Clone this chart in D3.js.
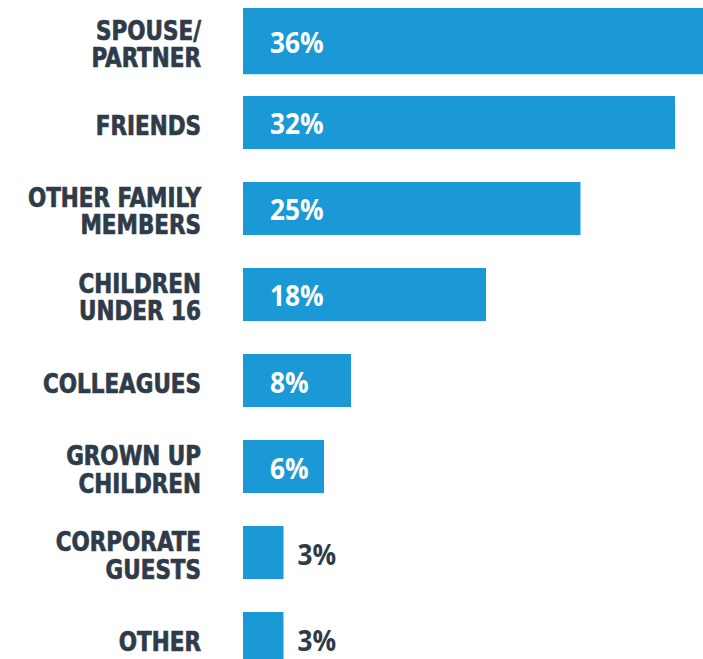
<!DOCTYPE html>
<html>
<head>
<meta charset="utf-8">
<script src="https://cdn.jsdelivr.net/npm/d3@7"></script>
<style>
  html, body { margin: 0; padding: 0; background: #ffffff; }
  svg { display: block; overflow: hidden; }
  .cat { font-family: "DejaVu Sans Condensed", "DejaVu Sans", sans-serif; font-weight: 700; fill: #2f3b48; stroke: #2f3b48; stroke-width: 0.7px; }
  .val { font-family: "Open Sans", "Noto Sans", sans-serif; font-weight: 700; }
</style>
</head>
<body>
<div id="chart"></div>
<script>
// Who respondents share the experience with
const categories = [
  ["SPOUSE/", "PARTNER"],
  ["FRIENDS"],
  ["OTHER FAMILY", "MEMBERS"],
  ["CHILDREN", "UNDER 16"],
  ["COLLEAGUES"],
  ["GROWN UP", "CHILDREN"],
  ["CORPORATE", "GUESTS"],
  ["OTHER"]
];
const values = [36, 32, 25, 18, 8, 6, 3, 3];
const valueLabels = values.map(v => v + "%");

const width = 703, height = 659;
const barColor = "#1a99d6";
const darkText = "#2f3b48";
const squeeze = 0.885; // narrows the bold face into a condensed look

const keys = categories.map(c => c.join(" "));

const svg = d3.select("#chart").append("svg")
  .attr("width", width)
  .attr("height", height);

const x = d3.scaleLinear().domain([0, 36]).range([243, 729]);
const y = d3.scaleBand().domain(keys).range([10, 665]).paddingInner(0.384).paddingOuter(0);

const rows = svg.selectAll("g.row")
  .data(values.map((v, i) => ({ key: keys[i], lines: categories[i], value: v, label: valueLabels[i], i })))
  .join("g")
  .attr("class", "row");

// The leading bar is drawn a little taller
const barTop = d => d.i === 0 ? y(d.key) - 2 : y(d.key);
const barH = d => d.i === 0 ? y.bandwidth() * 1.25 : y.bandwidth();
const barMid = d => barTop(d) + barH(d) / 2;

rows.append("rect")
  .attr("x", x(0))
  .attr("y", barTop)
  .attr("width", d => x(d.value) - x(0))
  .attr("height", barH)
  .attr("fill", barColor);

// Category labels, right-aligned, one or two lines (each line its own text)
const lineH = 27;
rows.each(function(d) {
  const n = d.lines.length;
  const mid = barMid(d) + 2.5;
  const g = d3.select(this).append("g")
    .attr("transform", `translate(201,0) scale(${squeeze},1)`);
  g.selectAll("text")
    .data(d.lines)
    .join("text")
    .attr("class", "cat")
    .attr("text-anchor", "end")
    .attr("font-size", 27)
    .attr("x", 0)
    .attr("y", (ln, k) => mid + (k - (n - 1) / 2) * lineH + 10)
    .text(ln => ln);
});

// Value labels: inside the bar in white when it fits, otherwise to its right
rows.append("text")
  .attr("class", "val")
  .attr("font-size", 29)
  .attr("transform", d => {
    const tx = d.value >= 5 ? x(0) + 27 : x(d.value) + 14;
    return `translate(${tx},${barMid(d) + 1.5 + 10.5}) scale(0.905,1)`;
  })
  .attr("fill", d => d.value >= 5 ? "#ffffff" : darkText)
  .text(d => d.label);
</script>
</body>
</html>
